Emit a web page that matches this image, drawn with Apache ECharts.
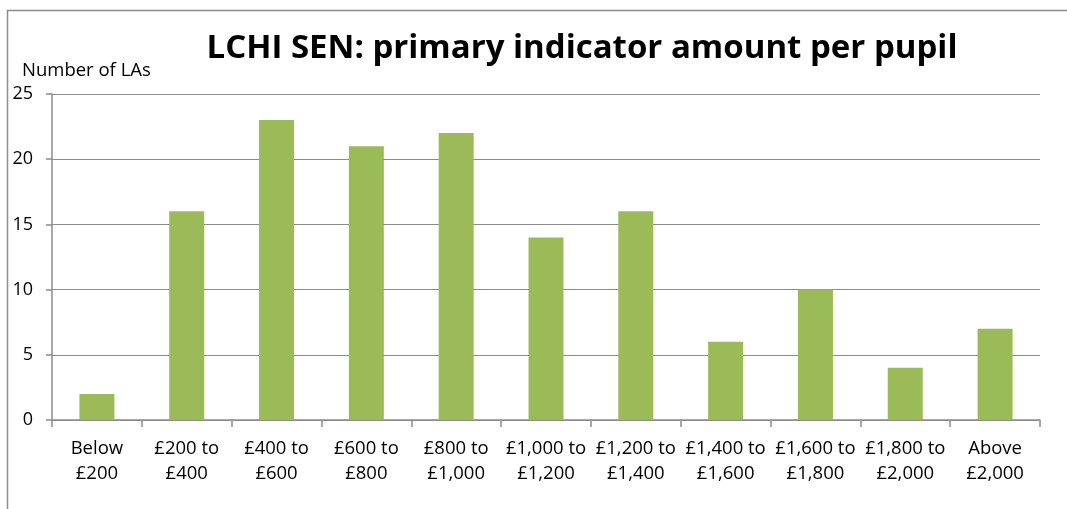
<!DOCTYPE html>
<html>
<head>
<meta charset="utf-8">
<script src="https://cdn.jsdelivr.net/npm/echarts@6/dist/echarts.min.js"></script>
<style>
  html, body { margin: 0; padding: 0; background: #fff; }
  #chart { width: 1067px; height: 509px; }
</style>
</head>
<body>
<div id="chart"></div>
<script>
var categories = ["Below\n£200", "£200 to\n£400", "£400 to\n£600", "£600 to\n£800", "£800 to\n£1,000",
  "£1,000 to\n£1,200", "£1,200 to\n£1,400", "£1,400 to\n£1,600", "£1,600 to\n£1,800",
  "£1,800 to\n£2,000", "Above\n£2,000"];
var counts = [2, 16, 23, 21, 22, 14, 16, 6, 10, 4, 7];

var chart = echarts.init(document.getElementById("chart"));
chart.setOption({
  animation: false,
  textStyle: { fontFamily: "Open Sans" },
  graphic: [
    {
      // outer chart frame (runs off the right and bottom edge)
      type: "rect",
      shape: { x: 7.5, y: 10.5, width: 1100, height: 600 },
      style: { fill: null, stroke: "#8c8c8c", lineWidth: 1.5 }
    }
  ],
  title: {
    text: "LCHI SEN: primary indicator amount per pupil",
    left: 577,
    top: 27,
    textAlign: "center",
    textStyle: { fontSize: 33, fontWeight: "bold", color: "#000", fontFamily: "Open Sans" }
  },
  grid: { left: 52, right: 27, top: 94, bottom: 89 },
  xAxis: {
    type: "category",
    data: categories,
    axisLine: { lineStyle: { color: "#8c8c8c", width: 1.5 } },
    axisTick: { show: true, length: 7, lineStyle: { color: "#8c8c8c", width: 1.5 } },
    axisLabel: { color: "#000", fontSize: 18.5, lineHeight: 25, margin: 16, interval: 0 }
  },
  yAxis: {
    type: "value",
    min: 0,
    max: 25,
    interval: 5,
    name: "Number of LAs",
    nameLocation: "end",
    nameGap: 14,
    nameTextStyle: { color: "#000", fontSize: 18.5, align: "left", padding: [0, 0, 0, -30] },
    axisLine: { show: true, lineStyle: { color: "#8c8c8c", width: 1.5 } },
    axisTick: { show: true, length: 6, lineStyle: { color: "#8c8c8c", width: 1.5 } },
    axisLabel: { color: "#000", fontSize: 18, margin: 19 },
    splitLine: { lineStyle: { color: "#8c8c8c", width: 1.2 } }
  },
  series: [
    {
      type: "bar",
      data: counts,
      barWidth: 35,
      itemStyle: { color: "#9bbb59" }
    }
  ]
});
</script>
</body>
</html>
